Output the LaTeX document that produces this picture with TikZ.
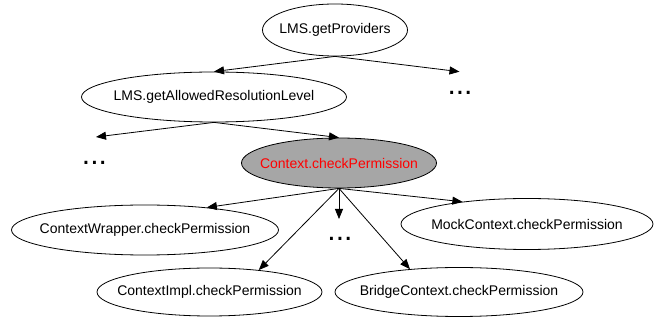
\documentclass[tikz,border=0pt]{standalone}
\usepackage{fontspec}
\setmainfont{Liberation Sans}
\usetikzlibrary{shapes.geometric, arrows.meta}

\begin{document}
\begin{tikzpicture}[x=1pt, y=-1pt, font=\fontsize{14}{16}\selectfont,
    call/.style = {ellipse, draw, line width=0.8pt, inner sep=0pt, minimum height=50pt},
    arr/.style = {-{Triangle[length=10pt, width=8pt]}, line width=0.8pt},
    more/.style = {font=\fontsize{30}{30}\selectfont, inner sep=0pt}]
  \useasboundingbox (0,0) rectangle (654,320);

  % call chain
  \node[call, minimum width=145pt, minimum height=52pt, label=center:{LMS.getProviders}] (prov) at (335,30) {};
  \node[call, minimum width=265pt, label=center:{LMS.getAllowedResolutionLevel}] (allowed) at (214,97) {};
  \node[call, minimum width=195pt, fill=black!35, label={[red]center:Context.checkPermission}] (ctx) at (339,163) {};

  % implementations
  \node[call, minimum width=267pt, label=center:{ContextWrapper.checkPermission}] (cw) at (145,230) {};
  \node[call, minimum width=225pt, minimum height=48pt, label=center:{ContextImpl.checkPermission}] (impl) at (209.5,292) {};
  \node[call, minimum width=248pt, minimum height=49pt, label=center:{BridgeContext.checkPermission}] (bridge) at (459,292) {};
  \node[call, minimum width=252pt, minimum height=51pt, label=center:{MockContext.checkPermission}] (mock) at (527,224) {};

  % elided callers
  \node[more] (dotsR) at (460,92.7) {...};
  \node[more] (dotsL) at (94.5,163.3) {...};
  \node[more] (dotsM) at (340,239.3) {...};
  \coordinate (endR) at (459.5,71.7);
  \coordinate (endL) at (96,137);
  \coordinate (endM) at (339,219);

  \draw[arr] (prov.south) -- (allowed.north);
  \draw[arr] (prov.south) -- (endR);
  \draw[arr] (allowed.south) -- (endL);
  \draw[arr] (allowed.south) -- (ctx.north);
  \foreach \t in {cw.20, endM, impl.24, bridge.155, mock.161}
    \draw[arr] (ctx.south) -- (\t);
\end{tikzpicture}
\end{document}
